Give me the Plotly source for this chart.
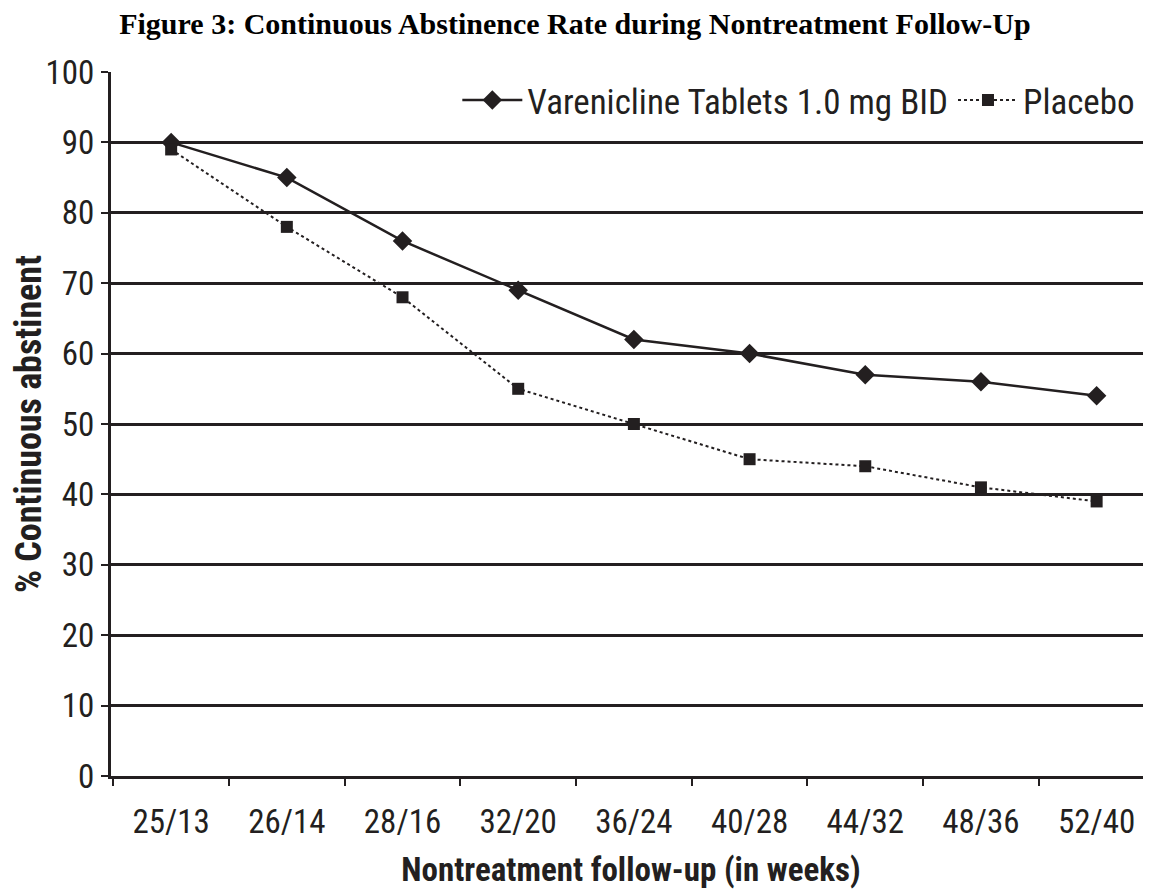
import plotly.graph_objects as go

categories = ["25/13", "26/14", "28/16", "32/20", "36/24", "40/28", "44/32", "48/36", "52/40"]
varenicline = [90, 85, 76, 69, 62, 60, 57, 56, 54]
placebo = [89, 78, 68, 55, 50, 45, 44, 41, 39]
y_ticks = [0, 10, 20, 30, 40, 50, 60, 70, 80, 90, 100]

FONT = "Liberation Sans Narrow, Roboto Condensed, Arial Narrow, Liberation Sans, sans-serif"
INK = "#231f20"

fig = go.Figure()
fig.add_trace(go.Scatter(
    x=categories, y=varenicline, name="Varenicline Tablets 1.0 mg BID",
    mode="lines+markers",
    line=dict(color=INK, width=2.5),
    marker=dict(symbol="diamond", size=15, color=INK),
))
fig.add_trace(go.Scatter(
    x=categories, y=placebo, name="Placebo",
    mode="lines+markers",
    line=dict(color=INK, width=2, dash="dot"),
    marker=dict(symbol="square", size=12, color=INK),
))

fig.update_layout(
    width=1143, height=885,
    paper_bgcolor="white", plot_bgcolor="white",
    margin=dict(l=103, r=0, t=64, b=117),
    title=dict(
        text="<b>Figure 3: Continuous Abstinence Rate during Nontreatment Follow-Up</b>",
        font=dict(family="Liberation Serif, Times New Roman, serif", size=30, color="black"),
        x=0.496, xanchor="center", y=0.994, yanchor="top", pad=dict(t=0, b=0),
    ),
    font=dict(family=FONT, color=INK),
    legend=dict(
        orientation="h", x=0.333, xanchor="left", y=0.96, yanchor="middle",
        font=dict(family=FONT, size=35, color=INK),
        bgcolor="rgba(255,255,255,0)", itemwidth=60, tracegroupgap=0,
    ),
    showlegend=True,
)
fig.update_xaxes(
    type="category", range=[-0.52, 8.47],
    showline=True, linecolor=INK, linewidth=3,
    ticks="outside", ticklen=7, tickwidth=2, tickcolor=INK,
    tickson="boundaries", ticklabelstandoff=14,
    showgrid=False,
    tickfont=dict(family=FONT, size=33, color=INK),
    title=dict(text="<b>Nontreatment follow-up (in weeks)</b>",
               font=dict(family=FONT, size=33, color=INK), standoff=19),
)
fig.update_yaxes(
    range=[0, 100], tickvals=y_ticks,
    showline=True, linecolor=INK, linewidth=3,
    ticks="outside", ticklen=7, tickwidth=2, tickcolor=INK,
    showgrid=True, gridcolor=INK, gridwidth=3,
    zeroline=False,
    tickfont=dict(family=FONT, size=33, color=INK),
    title=dict(text="<b>% Continuous abstinent</b>",
               font=dict(family=FONT, size=36, color=INK), standoff=10),
)

fig.write_html("out.html")
